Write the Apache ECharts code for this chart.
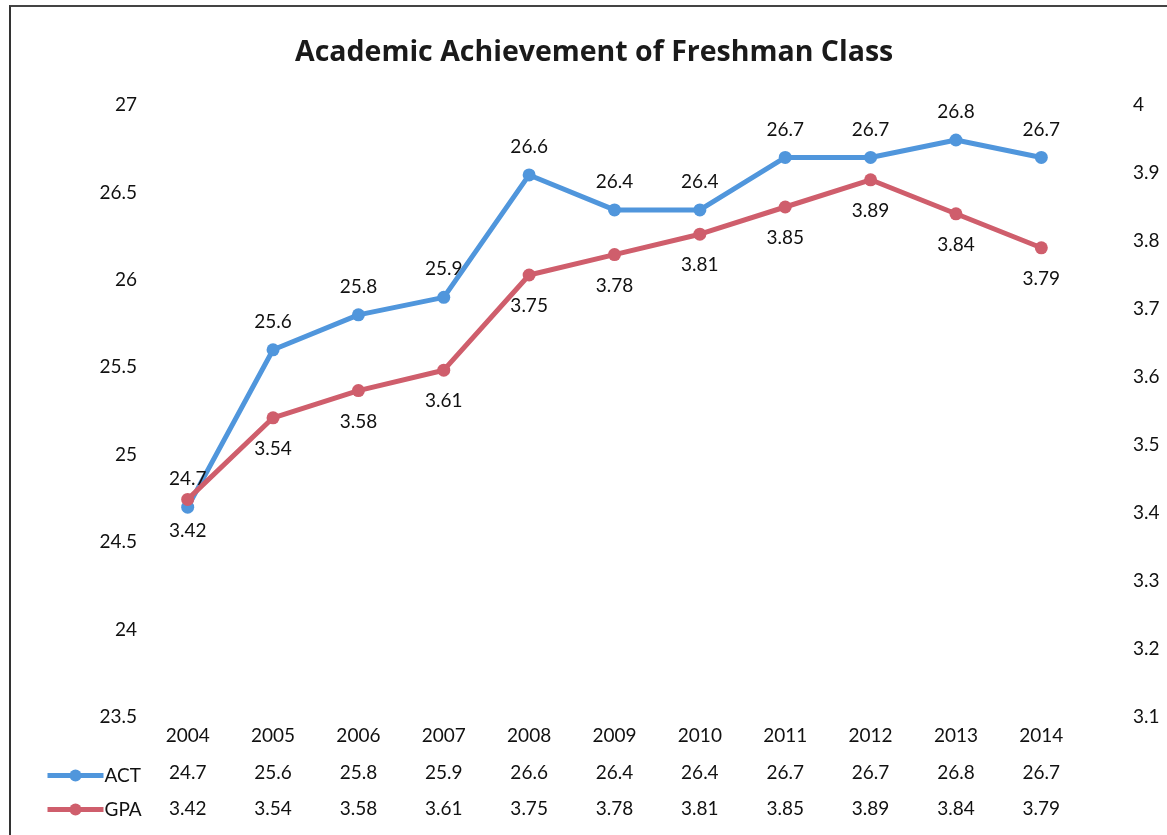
<!DOCTYPE html>
<html>
<head>
<meta charset="utf-8">
<script src="https://cdn.jsdelivr.net/npm/echarts@6/dist/echarts.min.js"></script>
<style>
  html, body { margin: 0; padding: 0; background: #ffffff; }
  #frame { position: absolute; left: 9px; top: 5px; width: 1200px; height: 900px;
           border-left: 2px solid #333; border-top: 2px solid #444; pointer-events: none; }
  #chart { width: 1167px; height: 835px; }
</style>
</head>
<body>
<div id="chart"></div>
<div id="frame"></div>
<script>
// data
const years = ['2004', '2005', '2006', '2007', '2008', '2009', '2010', '2011', '2012', '2013', '2014']
const act = [24.7, 25.6, 25.8, 25.9, 26.6, 26.4, 26.4, 26.7, 26.7, 26.8, 26.7]
const gpa = [3.42, 3.54, 3.58, 3.61, 3.75, 3.78, 3.81, 3.85, 3.89, 3.84, 3.79]

const FONT = 'Lato'
const blue = '#5096dc'
const red = '#cf5e6c'

const chart = echarts.init(document.getElementById('chart'))

// table rows under the plot (year / ACT / GPA)
function rowAxis (data, offset) {
  return {
    type: 'category',
    data: data,
    position: 'bottom',
    offset: offset,
    boundaryGap: true,
    axisLine: { show: false },
    axisTick: { show: false },
    axisLabel: { color: '#111', fontSize: 19, fontFamily: FONT, margin: 9, interval: 0 }
  }
}

chart.setOption({
  backgroundColor: '#ffffff',
  animation: false,
  title: {
    text: 'Academic Achievement of Freshman Class',
    left: 290,
    top: 33,
    textStyle: { fontFamily: 'Open Sans', fontWeight: 'bold', fontSize: 28.5, color: '#1a1a1a' }
  },
  grid: { left: 145, right: 83, top: 105, bottom: 118 },
  legend: {
    orient: 'vertical',
    left: 40,
    top: 761,
    itemWidth: 56,
    itemHeight: 15,
    itemGap: 15,
    lineStyle: { width: 5 },
    textStyle: { fontFamily: FONT, fontSize: 19, color: '#111', padding: [0, 0, 0, -4] },
    data: ['ACT', 'GPA']
  },
  xAxis: [
    rowAxis(years, 0),
    rowAxis(act.map(v => v.toFixed(1)), 37),
    rowAxis(gpa.map(v => v.toFixed(2)), 73)
  ],
  yAxis: [
    {
      type: 'value',
      min: 23.5,
      max: 27,
      interval: 0.5,
      axisLine: { show: false },
      axisTick: { show: false },
      splitLine: { show: false },
      axisLabel: { color: '#111', fontSize: 19, fontFamily: FONT, margin: 8 }
    },
    {
      type: 'value',
      min: 3.1,
      max: 4,
      interval: 0.1,
      position: 'right',
      axisLine: { show: false },
      axisTick: { show: false },
      splitLine: { show: false },
      axisLabel: { color: '#111', fontSize: 19, fontFamily: FONT, margin: 49, align: 'left',
        formatter: v => String(Math.round(v * 10) / 10) }
    }
  ],
  series: [
    {
      name: 'ACT',
      type: 'line',
      data: act,
      yAxisIndex: 0,
      symbol: 'circle',
      symbolSize: 13,
      lineStyle: { color: blue, width: 5 },
      itemStyle: { color: blue },
      label: { show: true, position: 'top', distance: 12, color: '#111', fontSize: 19, fontFamily: FONT,
        formatter: p => p.value.toFixed(1) },
      z: 2
    },
    {
      name: 'GPA',
      type: 'line',
      data: gpa,
      yAxisIndex: 1,
      symbol: 'circle',
      symbolSize: 13,
      lineStyle: { color: red, width: 5 },
      itemStyle: { color: red },
      label: { show: true, position: 'bottom', distance: 15, color: '#111', fontSize: 19, fontFamily: FONT,
        formatter: p => p.value.toFixed(2) },
      z: 3
    }
  ]
})
</script>
</body>
</html>
